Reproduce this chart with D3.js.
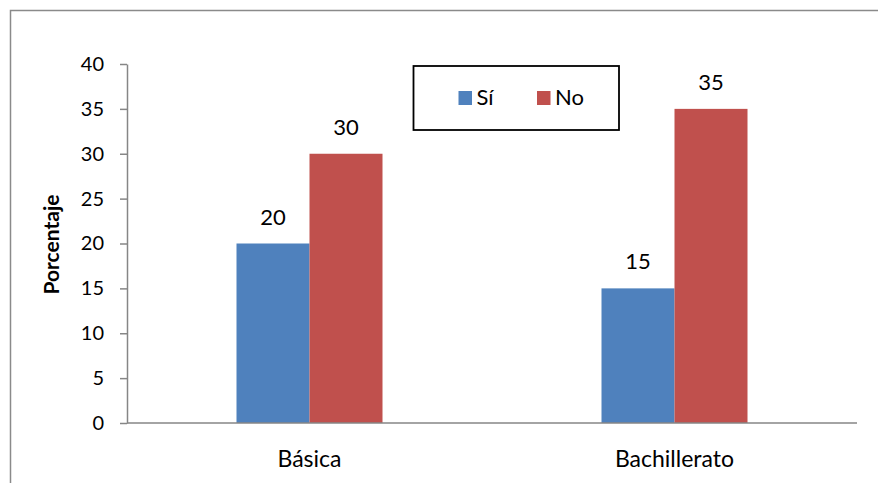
<!DOCTYPE html>
<html>
<head>
<meta charset="utf-8">
<script src="https://cdn.jsdelivr.net/npm/d3@7"></script>
<style>
  html, body { margin: 0; padding: 0; background: #fff; }
  svg { display: block; }
  text { font-family: Lato, "Open Sans", sans-serif; fill: #000; }
</style>
</head>
<body>
<svg id="chart" width="878" height="483"></svg>
<script>
// Survey responses by school level (percent)
const categories = ["Básica", "Bachillerato"];
const seriesNames = ["Sí", "No"];
const siValues = [20, 15];
const noValues = [30, 35];
const yTicks = [0, 5, 10, 15, 20, 25, 30, 35, 40];
const yLabel = "Porcentaje";

const colors = { "Sí": "#4F81BD", "No": "#C0504D" };
const valuesBySeries = { "Sí": siValues, "No": noValues };

const svg = d3.select("#chart");
const W = 878, H = 483;

// outer chart frame (runs past the window on the right and bottom)
svg.append("rect")
  .attr("x", 10.5).attr("y", 10.5)
  .attr("width", W + 20).attr("height", H + 20)
  .attr("fill", "#fff")
  .attr("stroke", "#8a8a8a").attr("stroke-width", 1.5);

const plot = { left: 127, right: 857, top: 64, bottom: 423 };

const y = d3.scaleLinear().domain([0, 40]).range([plot.bottom, plot.top]);
const x0 = d3.scaleBand().domain(categories).range([plot.left, plot.right]).padding(0);
const groupW = x0.step() * 0.4;
const x1 = d3.scaleBand().domain(seriesNames).range([0, groupW]).padding(0);

const rows = categories.map((c, i) => ({
  cat: c,
  vals: seriesNames.map(s => ({ series: s, value: valuesBySeries[s][i] }))
}));

// bars
const groups = svg.append("g").selectAll("g")
  .data(rows).join("g")
  .attr("transform", d => `translate(${x0(d.cat) + (x0.bandwidth() - groupW) / 2},0)`);

groups.selectAll("rect")
  .data(d => d.vals).join("rect")
  .attr("x", d => x1(d.series))
  .attr("y", d => y(d.value))
  .attr("width", x1.bandwidth())
  .attr("height", d => y(0) - y(d.value))
  .attr("fill", d => colors[d.series]);

// value labels above bars
groups.selectAll("text.val")
  .data(d => d.vals).join("text")
  .attr("class", "val")
  .attr("x", d => x1(d.series) + x1.bandwidth() / 2)
  .attr("y", d => y(d.value) - 19)
  .attr("text-anchor", "middle")
  .attr("font-size", 22)
  .text(d => d.value);

// y axis
const yAxis = svg.append("g")
  .attr("transform", `translate(${plot.left},0)`)
  .call(d3.axisLeft(y).tickValues(yTicks).tickSize(7).tickPadding(16).tickSizeOuter(0));
yAxis.select(".domain").attr("stroke", "#868686").attr("stroke-width", 1.5);
yAxis.selectAll(".tick line").attr("stroke", "#868686").attr("stroke-width", 1.5);
yAxis.selectAll(".tick text")
  .attr("font-family", "Lato, sans-serif")
  .attr("font-size", 20)
  .attr("fill", "#000");

// x axis baseline
svg.append("line")
  .attr("x1", plot.left).attr("x2", plot.right)
  .attr("y1", y(0)).attr("y2", y(0))
  .attr("stroke", "#868686").attr("stroke-width", 1.5);

// category labels
svg.append("g").selectAll("text")
  .data(categories).join("text")
  .attr("x", d => x0(d) + x0.bandwidth() / 2)
  .attr("y", y(0) + 43.5)
  .attr("text-anchor", "middle")
  .attr("font-size", 23)
  .text(d => d);

// y axis title
svg.append("text")
  .attr("transform", `translate(58.5,${(plot.top + plot.bottom) / 2 + 1}) rotate(-90)`)
  .attr("text-anchor", "middle")
  .attr("font-size", 21)
  .attr("font-weight", "bold")
  .text(yLabel);

// legend
const legend = svg.append("g").attr("transform", "translate(413.5,66)");
legend.append("rect")
  .attr("width", 205.5).attr("height", 64)
  .attr("fill", "#fff").attr("stroke", "#000").attr("stroke-width", 1.8);
const legendX = d3.scaleOrdinal().domain(seriesNames).range([45, 123.5]);
const items = legend.selectAll("g.item")
  .data(seriesNames).join("g")
  .attr("class", "item")
  .attr("transform", d => `translate(${legendX(d)},25)`);
items.append("rect")
  .attr("width", 13.5).attr("height", 14)
  .attr("fill", d => colors[d]);
items.append("text")
  .attr("x", 18).attr("y", 14)
  .attr("font-size", 22)
  .text(d => d);
</script>
</body>
</html>
